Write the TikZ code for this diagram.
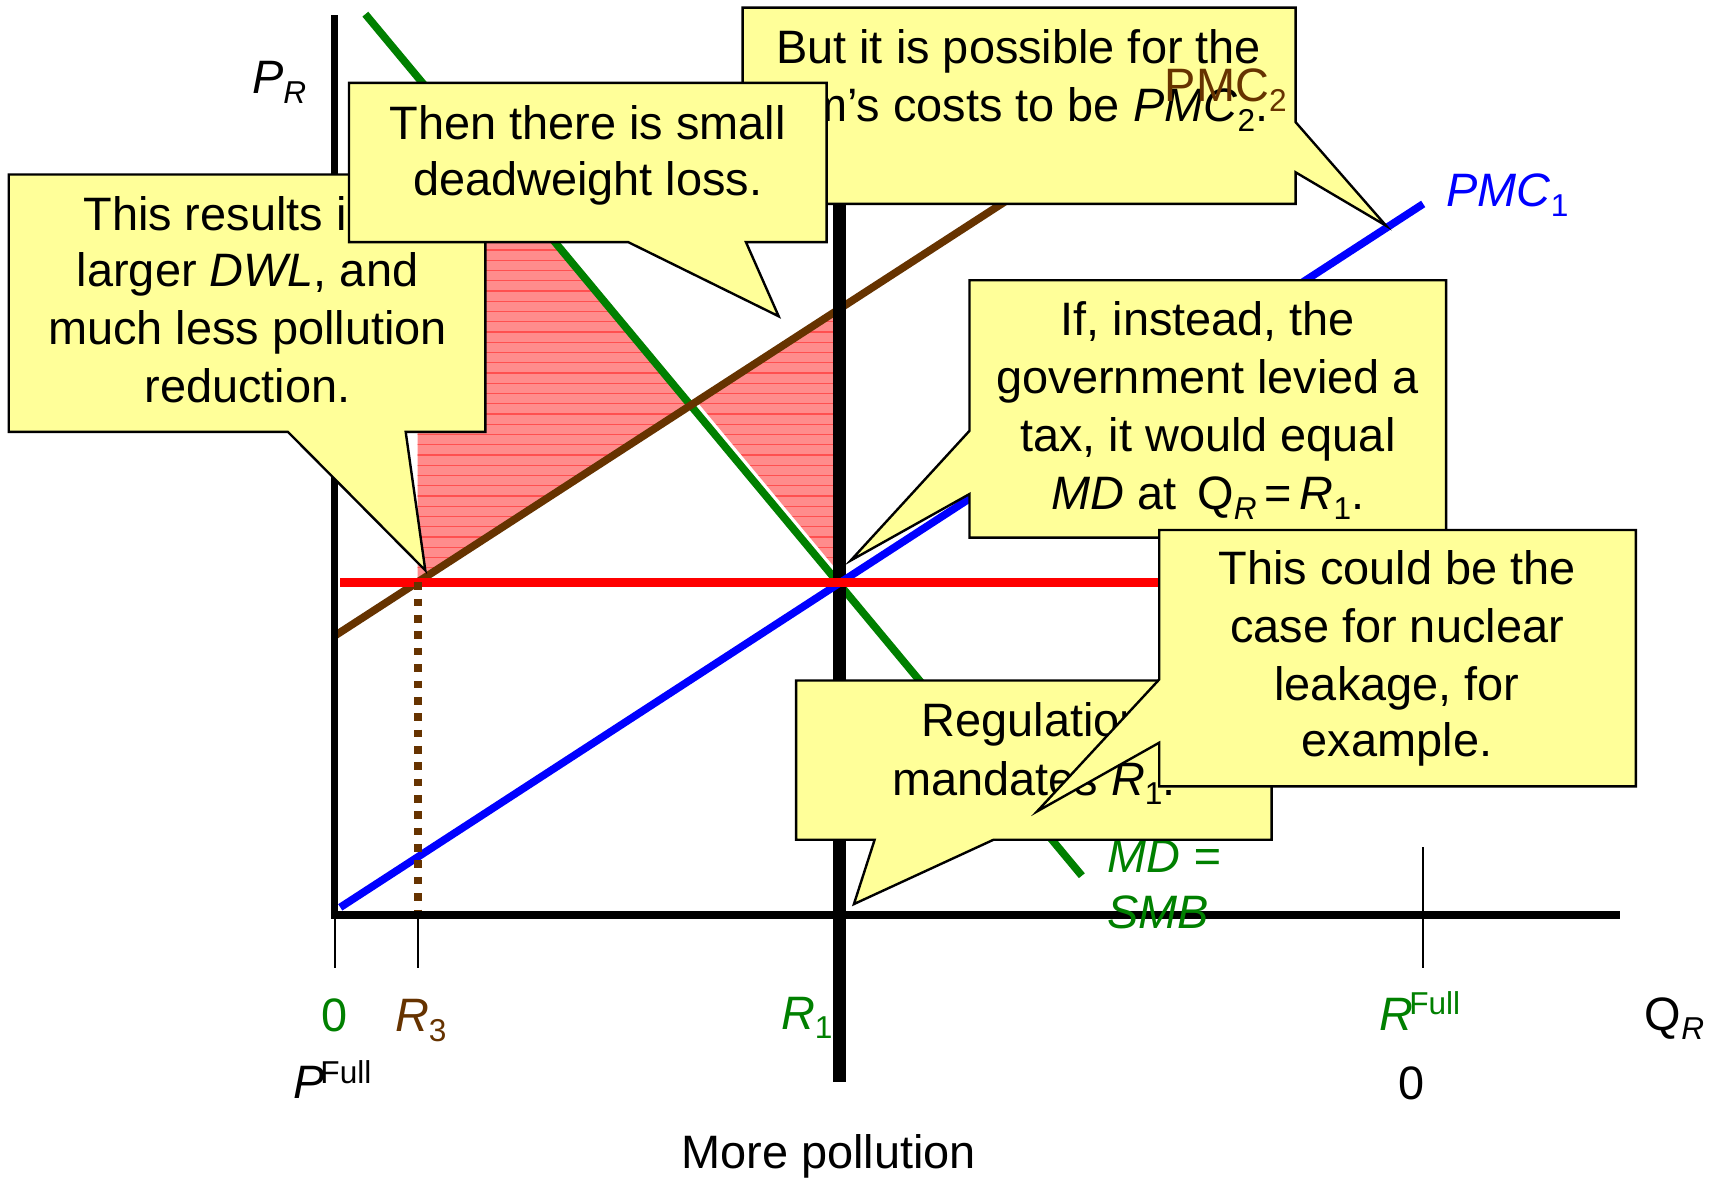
\documentclass[tikz,border=0pt]{standalone}
\usepackage{fontspec}
\setmainfont{Liberation Sans}
\definecolor{dgreen}{RGB}{0,128,0}
\definecolor{brn}{RGB}{102,51,0}
\definecolor{callout}{RGB}{255,255,153}
\definecolor{dwlfill}{RGB}{255,140,140}
\definecolor{dwlline}{RGB}{255,80,80}
\newcommand{\mysub}[1]{\raisebox{-9pt}{\fontsize{29}{29}\selectfont #1}}
\newcommand{\mysup}[1]{\raisebox{14pt}{\fontsize{29}{29}\selectfont #1}}
\tikzset{
  txt/.style={font=\fontsize{43}{52}\selectfont, inner sep=0pt, anchor=base},
  lbl/.style={font=\fontsize{43}{52}\selectfont, inner sep=0pt, anchor=base west},
  callbox/.style={fill=callout, draw=black, line width=2.2pt, line join=miter},
  curve/.style={line width=7pt},
  axisline/.style={line width=6.5pt, black, line join=miter},
  tick/.style={line width=2pt, black}
}
\begin{document}
\begin{tikzpicture}[x=1pt,y=-1pt]
\fill[white] (0,0) rectangle (1568,1083);
\useasboundingbox (0,0) rectangle (1568,1083);

% key points
\coordinate (E) at (770,535);
\coordinate (X) at (633.3,371.7);
\coordinate (B) at (770,283.2);
\coordinate (R3p) at (383,533.8);
\coordinate (G3) at (383,70.7);

% deadweight loss shading
\begin{scope}
  \clip (R3p) -- (G3) -- (X) -- cycle (X) -- (B) -- (770,537) -- cycle;
  \fill[dwlfill] (370,50) rectangle (780,545);
  \foreach \yy in {60,69.4,...,545} \draw[dwlline, line width=1pt] (370,\yy) -- (780,\yy);
\end{scope}
\draw[white, line width=5pt] (638,371) -- (775,536);

% curves and R1 vertical
\draw[dgreen, curve] (335,13) -- (992,803);
\draw[brn, curve] (307,583) -- (960,160);
\draw[line width=12pt, black] (770,150) -- (770,992);
\draw[blue, curve] (312,832) -- (1305,187);
\draw[red, line width=8pt] (312,534) -- (1070,534);
\draw[brn, line width=7pt, dash pattern=on 7pt off 8pt] (383,534) -- (383,836);

% axes
\draw[axisline] (307,14) -- (307,839) -- (1485,839);
\draw[tick] (307,839) -- (307,888);
\draw[tick] (383,839) -- (383,888);
\draw[tick] (1305,777) -- (1305,888);

% labels
\node[lbl] (pr) at (231,86) {\textit{P}\mysub{\textit{R}}};
\node[lbl, text=blue] (pmc1) at (1326,189.5) {\textit{PMC}\mysub{1}};
\node[lbl, text=dgreen] (md) at (1015,800) {\textit{MD =}};
\node[lbl, text=dgreen] (smb) at (1015,851) {\textit{SMB}};
\node[txt, text=dgreen] (zero1) at (307,945.6) {0};
\node[lbl, text=brn] (r3) at (362,945.6) {\textit{R}\mysub{3}};
\node[lbl, text=dgreen] (r1) at (716,943.6) {\textit{R}\mysub{1}};
\node[lbl, text=dgreen] (rfull) at (1265,944.5) {\textit{R}\kern-4pt\mysup{Full}};
\node[lbl] (qr) at (1508,944.5) {Q\mysub{\textit{R}}};
\node[lbl] (pfull) at (269,1007.3) {\textit{P}\kern-4pt\mysup{Full}};
\node[txt] (zero2) at (1294,1008) {0};
\node[txt] (morepol) at (760,1071) {More pollution};

% callout 1: But it is possible
\draw[callbox] (681,7) -- (1188,7) -- (1188,112) -- (1271,207) -- (1188,158) -- (1188,187) -- (681,187) -- cycle;
\node[txt] (c1a) at (934,58.5) {But it is possible for the};
\node[txt] (c1b) at (934,111.6) {firm’s costs to be \textit{PMC}\mysub{2}.};
\node[lbl, text=brn] (pmc2) at (1068,93) {PMC\mysub{2}};

% callout 3: This results
\draw[callbox] (8,160) -- (445,160) -- (445,396) -- (372,396) -- (390,523) -- (264,396) -- (8,396) -- cycle;
\node[txt] (c3a) at (227,211) {This results in a};
\node[txt] (c3b) at (227,263) {larger \textit{DWL}, and};
\node[txt] (c3c) at (227,316) {much less pollution};
\node[txt] (c3d) at (227,369) {reduction.};

% callout 2: Then there is small
\draw[callbox] (320,76) -- (758,76) -- (758,222) -- (684,222) -- (714,290) -- (576,222) -- (320,222) -- cycle;
\node[txt] (c2a) at (539,128) {Then there is small};
\node[txt] (c2b) at (539,179) {deadweight loss.};

% callout 4: If, instead
\draw[callbox] (889,257) -- (1326,257) -- (1326,493) -- (889,493) -- (889,453) -- (780,514) -- (889,395) -- cycle;
\node[txt] (c4a) at (1107.5,308) {If, instead, the};
\node[txt] (c4b) at (1107.5,361) {government levied a};
\node[txt] (c4c) at (1107.5,414) {tax, it would equal};
\node[txt] (c4d) at (1107.5,467) {\textit{MD} at\, Q\mysub{\textit{R}}\,=\,\textit{R}\mysub{1}.};

% callout 6: Regulation
\draw[callbox] (730,624) -- (1166,624) -- (1166,770) -- (911,770) -- (783,829) -- (802,770) -- (730,770) -- cycle;
\node[txt] (c6a) at (948,675.5) {Regulation};
\node[txt] (c6b) at (948,729) {mandates \textit{R}\mysub{1}.};

% callout 5: This could be
\draw[callbox] (1063,486) -- (1500,486) -- (1500,721) -- (1063,721) -- (1063,681) -- (951,744) -- (1063,623) -- cycle;
\node[txt] (c5a) at (1281,536) {This could be the};
\node[txt] (c5b) at (1281,589) {case for nuclear};
\node[txt] (c5c) at (1281,642) {leakage, for};
\node[txt] (c5d) at (1281,694) {example.};
\end{tikzpicture}
\end{document}
